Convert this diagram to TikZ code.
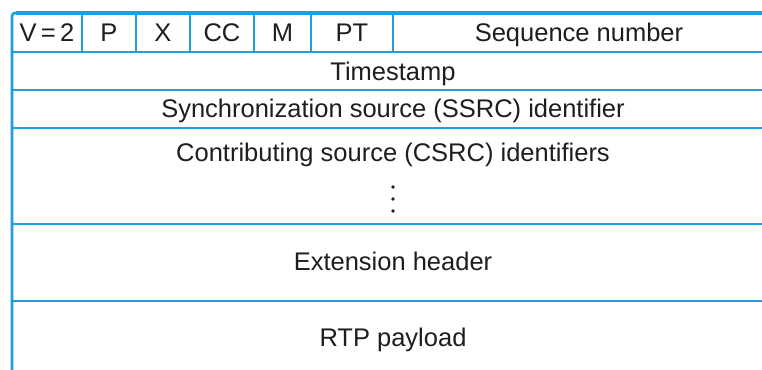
\documentclass[tikz,border=0pt]{standalone}
\usepackage{fontspec}
\setmainfont{Liberation Sans}
\definecolor{rtpblue}{RGB}{32,158,214}
\definecolor{rtptext}{RGB}{30,30,30}
\tikzset{
  grid/.style={draw=rtpblue, line width=1.6pt},
  lbl/.style={anchor=base, inner sep=0pt, text=rtptext, font=\fontsize{25.5}{29}\selectfont},
  dotmark/.style={fill=rtptext, draw=none}
}
\begin{document}
\begin{tikzpicture}[x=1pt, y=-1pt]
\useasboundingbox[fill=white] (0,0) rectangle (762,369);
% horizontal dividers
\foreach \yy in {52,90,128,224,301} \draw[grid] (12,\yy) -- (774,\yy);
% top-row vertical dividers
\foreach \xx in {82,136,190,254,311,393} \draw[grid] (\xx,13) -- (\xx,52);
% outer frame
\draw[draw=rtpblue, line width=2.6pt, rounded corners=3pt] (12,372) -- (12,13) -- (774,13);
\draw[draw=rtpblue, line width=4pt] (16,13) -- (774,13);
% top row
\node[lbl] (v) at (47,41.5) {V\,=\,2};
\node[lbl] (p) at (109,41.5) {P};
\node[lbl] (x) at (163,41.5) {X};
\node[lbl] (cc) at (222,41.5) {CC};
\node[lbl] (m) at (282.5,41.5) {M};
\node[lbl] (pt) at (352,41.5) {PT};
\node[lbl] (seq) at (579,41.5) {Sequence number};
% rows
\node[lbl] (ts) at (393,80) {Timestamp};
\node[lbl] (ssrc) at (393,117) {Synchronization source (SSRC) identifier};
\node[lbl] (csrc) at (393,161.5) {Contributing source (CSRC) identifiers};
\fill[dotmark] (393,187) circle (1.8) (393,199) circle (1.8) (393,211) circle (1.8);
\node[lbl] (ext) at (393,270) {Extension header};
\node[lbl] (pay) at (393,346) {RTP payload};
\end{tikzpicture}
\end{document}
